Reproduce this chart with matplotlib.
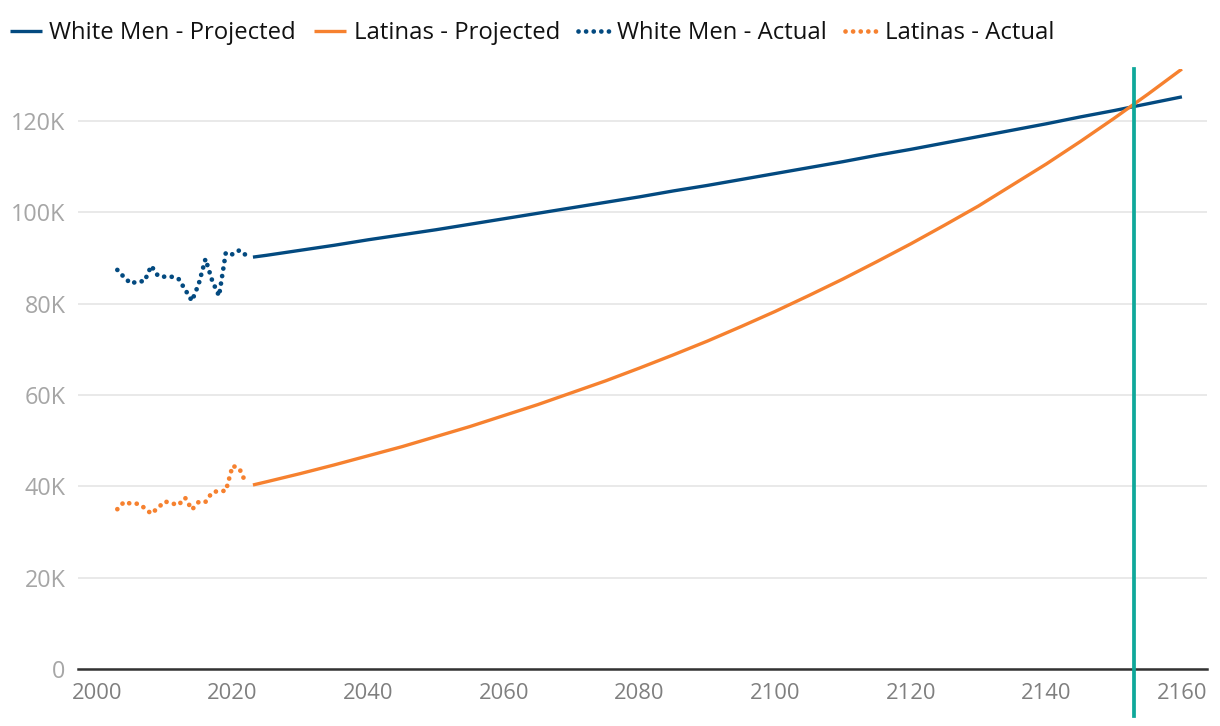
import matplotlib
matplotlib.use("Agg")
import matplotlib.pyplot as plt
from matplotlib.ticker import FuncFormatter

# ---- data (values in thousands of dollars) ----
actual_years = list(range(2003, 2023))
white_men_actual = [87.4, 85.8, 84.4, 84.9, 84.9, 88.3, 86.1, 85.9, 85.9, 85.5,
                    83.1, 80.6, 84.3, 89.8, 85.0, 81.7, 91.2, 90.8, 91.7, 90.6]
latinas_actual = [35.0, 36.6, 36.2, 36.2, 35.3, 34.0, 35.3, 36.7, 36.3, 35.9,
                  37.5, 34.9, 36.6, 36.6, 38.7, 39.0, 39.0, 44.5, 43.9, 40.6]

proj_years = [2023, 2025, 2030, 2035, 2040, 2045, 2050, 2055, 2060, 2065,
              2070, 2075, 2080, 2085, 2090, 2095, 2100, 2105, 2110, 2115,
              2120, 2125, 2130, 2135, 2140, 2145, 2150, 2155, 2160]
white_men_proj = [90.2, 90.6, 91.7, 92.8, 94.0, 95.1, 96.2, 97.4, 98.6, 99.8,
                  101.0, 102.2, 103.4, 104.7, 105.9, 107.2, 108.5, 109.8, 111.1, 112.5,
                  113.8, 115.2, 116.6, 118.0, 119.4, 120.9, 122.3, 123.8, 125.3]
latinas_proj = [40.3, 41.0, 42.8, 44.7, 46.7, 48.7, 50.9, 53.1, 55.5, 57.9,
                60.5, 63.1, 65.9, 68.8, 71.8, 75.0, 78.3, 81.8, 85.4, 89.2,
                93.1, 97.2, 101.4, 106.0, 110.6, 115.5, 120.6, 125.9, 131.4]

parity_year = 2153
x_ticks = [2000, 2020, 2040, 2060, 2080, 2100, 2120, 2140, 2160]
y_ticks = [0, 20, 40, 60, 80, 100, 120]

series_labels = ["White Men - Projected", "Latinas - Projected",
                 "White Men - Actual", "Latinas - Actual"]

NAVY = "#034a80"
ORANGE = "#f6812f"
TEAL = "#0fa89a"

plt.rcParams['font.family'] = ['Open Sans', 'DejaVu Sans']

fig = plt.figure(figsize=(12.2, 7.26), dpi=100)
ax = fig.add_axes([78/1220, 1-669/726, (1207-78)/1220, (669-69)/726])

h1, = ax.plot(proj_years, white_men_proj, color=NAVY, lw=2.4, solid_capstyle='butt')
h2, = ax.plot(proj_years, latinas_proj, color=ORANGE, lw=2.4, solid_capstyle='butt')
h3, = ax.plot(actual_years, white_men_actual, color=NAVY, lw=3.4,
              linestyle=(0, (0.01, 1.6)), dash_capstyle='round')
h4, = ax.plot(actual_years, latinas_actual, color=ORANGE, lw=3.4,
              linestyle=(0, (0.01, 1.6)), dash_capstyle='round')

ax.axvline(parity_year, ymin=-0.078, ymax=1.0, color=TEAL, lw=2.7,
           clip_on=False, zorder=5)

ax.set_xlim(1997.2, 2163.7)
ax.set_ylim(0, 131.4)
ax.set_xticks(x_ticks)
ax.set_yticks(y_ticks)
ax.yaxis.set_major_formatter(FuncFormatter(lambda v, p: "0" if v == 0 else f"{int(v)}K"))

for s in ['top', 'right', 'left']:
    ax.spines[s].set_visible(False)
ax.spines['bottom'].set_color('#333333')
ax.spines['bottom'].set_linewidth(1.8)

ax.grid(axis='y', color='#e3e3e3', lw=1.1)
ax.set_axisbelow(True)
ax.tick_params(axis='y', length=0, pad=9, labelsize=16.8, labelcolor='#a6a6a6')
ax.tick_params(axis='x', length=0, pad=10, labelsize=15.8, labelcolor='#7f7f7f')

leg = fig.legend([h1, h2, h3, h4], series_labels, loc='upper left',
                 bbox_to_anchor=(0.0, 1 - 11/726), ncol=4, frameon=False,
                 fontsize=17.2, handlelength=1.33, handletextpad=0.32,
                 columnspacing=0.76, borderaxespad=0.0, borderpad=0.42)
for t in leg.get_texts():
    t.set_color('#111111')

fig.savefig("out.png", dpi=100)
